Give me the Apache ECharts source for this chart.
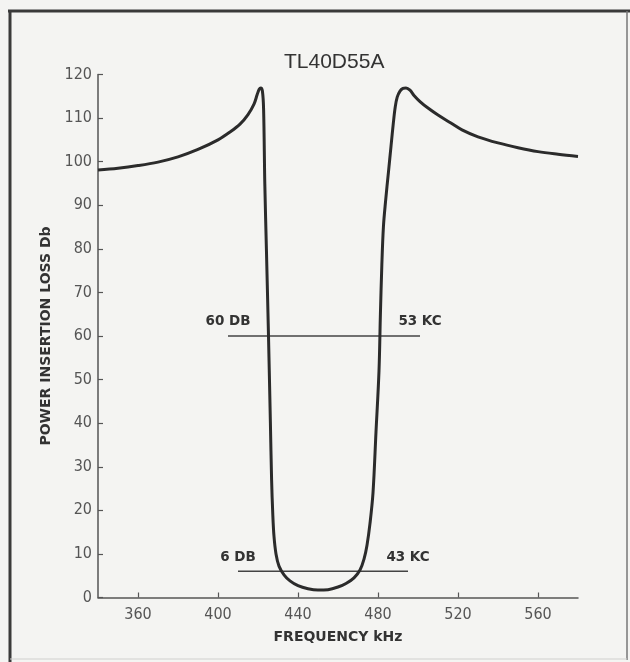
<!DOCTYPE html>
<html>
<head>
<meta charset="utf-8">
<script src="https://cdn.jsdelivr.net/npm/echarts@6/dist/echarts.min.js"></script>
<style>
  html, body { margin: 0; padding: 0; background: #fbfbfa; }
  #chart { width: 630px; height: 662px; }
</style>
</head>
<body>
<div id="chart"></div>
<script>
// Filter response: frequency (kHz) vs. power insertion loss (dB)
const freqKHz = [340, 350, 360, 370, 380, 390, 400, 406, 411, 415, 418, 419.6, 420.6, 421.4, 422.2, 422.8,
  423.4, 424.2, 425.2, 426.2, 426.8, 427.4, 428, 429, 430.5, 433, 436, 440, 445, 450, 455, 460, 464, 468,
  471, 473, 474.5, 476, 477.5, 479, 480.5, 481.2, 481.9, 482.7, 483.8, 485.2, 486.5, 487.7, 488.6, 489.6,
  491, 492.5, 494, 496, 498, 501, 505, 510, 516, 522, 530, 540, 550, 560, 570, 580];
const lossDb = [98.1, 98.5, 99.1, 99.9, 101.1, 102.8, 105.0, 106.8, 108.6, 110.8, 113.2, 115.4, 116.6, 116.9, 116.2, 112,
  95, 80, 61, 40, 27, 19, 14, 10, 7.2, 5.2, 3.8, 2.7, 2.0, 1.7, 1.8, 2.4, 3.2, 4.5,
  6.3, 8.8, 12, 17, 24, 38, 52, 65, 76, 85, 91, 97.5, 103.5, 109, 112.5, 114.8,
  116.2, 116.8, 116.9, 116.4, 115.2, 113.8, 112.3, 110.7, 109.0, 107.3, 105.7, 104.3, 103.2, 102.3, 101.7, 101.2];

// Bandwidth reference levels
const levelDb = [60, 6];
const levelStartKHz = [405, 410];
const levelEndKHz = [501, 495];
const levelLabels = ['60 DB', '6 DB'];
const widthLabels = ['53 KC', '43 KC'];

const xTicks = [360, 400, 440, 480, 520, 560];
const chartTitle = 'TL40D55A';
const xName = 'FREQUENCY kHz';
const yName = 'POWER INSERTION LOSS Db';

const narrow = "'Liberation Sans Narrow', 'DejaVu Sans Condensed', sans-serif";
const bold = "'DejaVu Sans', 'Liberation Sans', sans-serif";

const levelSeries = levelDb.map((lv, i) => ({
  type: 'line',
  data: [[levelStartKHz[i], lv], [levelEndKHz[i], lv]],
  symbol: 'circle',
  symbolSize: 0.1,
  lineStyle: { color: '#444', width: 1.5 },
  itemStyle: { color: '#444' },
  silent: true,
  z: 1,
  label: {
    show: true,
    position: 'top',
    distance: 7,
    fontFamily: bold,
    fontWeight: 'bold',
    fontSize: 13.5,
    color: '#333',
    formatter: p => (p.dataIndex === 0 ? levelLabels[i] : widthLabels[i])
  }
}));

const chart = echarts.init(document.getElementById('chart'), null, { renderer: 'canvas' });
chart.setOption({
  backgroundColor: '#f4f4f2',
  animation: false,
  grid: { left: 98, right: 52, top: 74.5, bottom: 64.5 },
  graphic: [
    { type: 'text', left: 284, top: 52, style: { text: chartTitle, fontSize: 21, fontFamily: "'Liberation Sans', Arial, sans-serif", fill: '#333' } },
    { type: 'line', shape: { x1: 8, y1: 11, x2: 630, y2: 11 }, style: { stroke: '#3a3a3a', lineWidth: 3 } },
    { type: 'line', shape: { x1: 10, y1: 10, x2: 10, y2: 662 }, style: { stroke: '#3a3a3a', lineWidth: 3 } },
    { type: 'line', shape: { x1: 627, y1: 11, x2: 627, y2: 660 }, style: { stroke: '#777', lineWidth: 1.5 } },
    { type: 'line', shape: { x1: 10, y1: 659, x2: 627, y2: 659 }, style: { stroke: '#d0d0ce', lineWidth: 1 } }
  ],
  xAxis: {
    type: 'value',
    min: 340,
    max: 580,
    name: xName,
    nameLocation: 'middle',
    nameGap: 33,
    nameTextStyle: { fontFamily: bold, fontWeight: 'bold', fontSize: 14, color: '#333' },
    axisLine: { lineStyle: { color: '#555', width: 1.5 } },
    axisTick: { inside: true, length: 5, customValues: xTicks, lineStyle: { color: '#555', width: 1.2 } },
    axisLabel: { customValues: xTicks, margin: 9, fontFamily: narrow, fontSize: 16, color: '#555' },
    splitLine: { show: false }
  },
  yAxis: {
    type: 'value',
    min: 0,
    max: 120,
    interval: 10,
    name: yName,
    nameLocation: 'middle',
    nameRotate: 90,
    nameGap: 37,
    nameTextStyle: { fontFamily: bold, fontWeight: 'bold', fontSize: 14, color: '#333' },
    axisLine: { show: true, lineStyle: { color: '#555', width: 1.5 } },
    axisTick: { show: true, inside: true, length: 5, lineStyle: { color: '#555', width: 1.2 } },
    axisLabel: { margin: 6, fontFamily: narrow, fontSize: 16, color: '#555' },
    splitLine: { show: false }
  },
  series: [
    {
      type: 'line',
      data: freqKHz.map((f, i) => [f, lossDb[i]]),
      showSymbol: false,
      smooth: 0.35,
      lineStyle: { color: '#2b2b2b', width: 3 },
      silent: true,
      z: 3
    },
    ...levelSeries
  ]
});
</script>
</body>
</html>
